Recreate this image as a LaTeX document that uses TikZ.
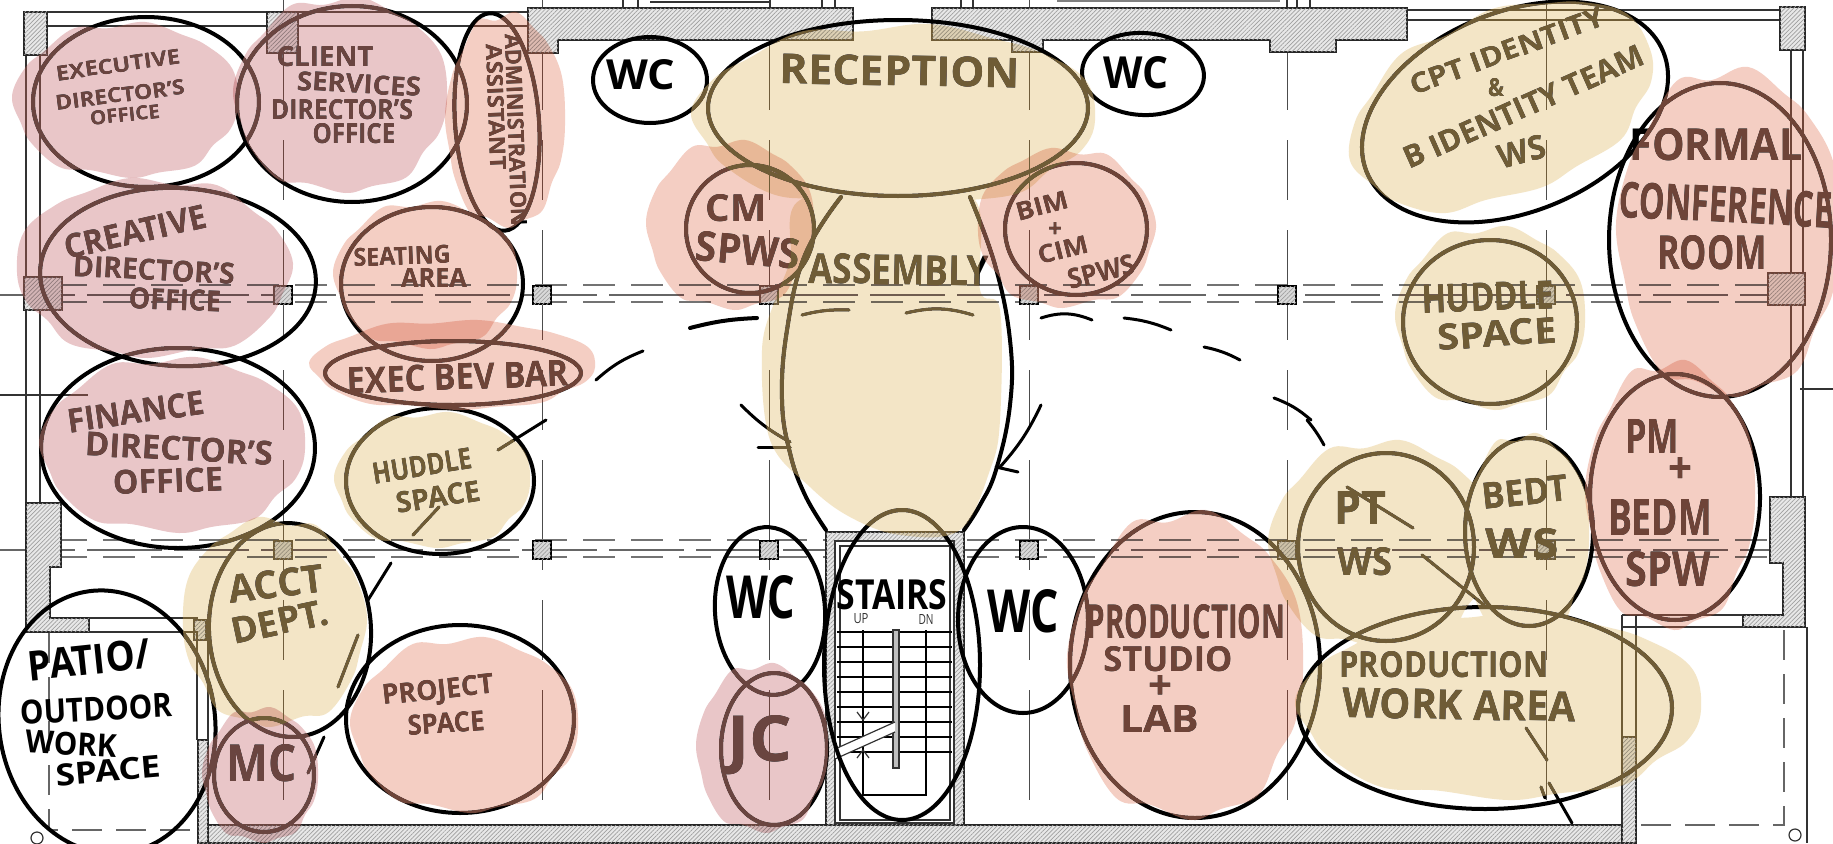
\documentclass[tikz,border=0pt]{standalone}
\usepackage{fontspec}
\usepackage{graphicx}
\usetikzlibrary{shapes.geometric,patterns.meta}
\setmainfont{Open Sans}
\definecolor{rosaW}{HTML}{E9C6C8}\definecolor{rosaD}{HTML}{6A4540}
\definecolor{peachW}{HTML}{F4CEC3}\definecolor{peachD}{HTML}{6E4438}
\definecolor{tanW}{HTML}{F3E5C6}\definecolor{tanD}{HTML}{6F5C36}
\tikzset{
  x=1pt,y=-1pt,
  bubble/.style={ellipse,draw=black,line width=4pt,inner sep=0pt},
  bubble line/.style={draw=black,line width=4pt,line cap=round},
  txt/.style={inner sep=0pt,outer sep=0pt,text=black},
  wall/.style={draw=black!85,line width=1.4pt,fill=gray!18,postaction={pattern={Lines[angle=45,distance=3pt,line width=.7pt]},pattern color=gray!75}},
  grid v/.style={draw=black!70,line width=1pt,dash pattern=on 110pt off 30pt on 60pt off 30pt},
  band/.style={draw=black!55,line width=1.2pt,dash pattern=on 32pt off 16pt},
  band mid/.style={draw=black!60,line width=1.2pt,dash pattern=on 75pt off 12pt},
  colm/.style={draw=black,line width=1.6pt,fill=gray!30,postaction={pattern={Lines[angle=45,distance=3pt,line width=.7pt]},pattern color=gray!75}},
  plan/.style={draw=black!80,line width=1.2pt},
  tread/.style={draw=black,line width=2.2pt},
  patioline/.style={draw=black!60,line width=1.2pt,dash pattern=on 30pt off 14pt},
  stroke/.style={draw=black,line width=3pt,line cap=round},
}
% washed patch around (cx,cy) with half sizes rx, ry
\newcommand\blob[4]{plot[smooth cycle,tension=.65] coordinates {(#1+1.00*#3,#2+.05*#4) (#1+.93*#3,#2+.38*#4) (#1+.78*#3,#2+.58*#4) (#1+.62*#3,#2+.84*#4) (#1+.30*#3,#2+.93*#4) (#1+.05*#3,#2+1.0*#4) (#1-.30*#3,#2+.90*#4) (#1-.58*#3,#2+.86*#4) (#1-.83*#3,#2+.55*#4) (#1-.92*#3,#2+.30*#4) (#1-1.0*#3,#2-.05*#4) (#1-.88*#3,#2-.42*#4) (#1-.72*#3,#2-.62*#4) (#1-.45*#3,#2-.92*#4) (#1-.15*#3,#2-.92*#4) (#1+.18*#3,#2-1.0*#4) (#1+.5*#3,#2-.84*#4) (#1+.72*#3,#2-.70*#4) (#1+.95*#3,#2-.40*#4)}}
\newcommand\wash[3][]{\fill[#1,blend mode=multiply,fill=#2W] #3;\fill[#1,blend mode=lighten,fill=#2D] #3;}
\newcommand\bub[6]{\node[bubble,minimum width=#4*2pt,minimum height=#5*2pt,rotate=#6] (#1) at (#2,#3) {};}
\newcommand\tl[7]{\node[txt,rotate=#6] (#1) at (#2,#3) {\resizebox{#4pt}{#5pt}{\bfseries #7}};}
\begin{document}
\begin{tikzpicture}
\useasboundingbox (0,0) rectangle (1833,843);
\clip (0,0) rectangle (1833,843);
\fill[white] (0,0) rectangle (1833,843);
% grid
\foreach \gx in {283,542,769,1029,1287,1546} \draw[grid v] (\gx,0) -- (\gx,843);
\foreach \by in {295,550}{
 \draw[band] (55,\by-10) -- (1790,\by-10);
 \draw[band] (55,\by+7) -- (1790,\by+7);
 \draw[band mid] (0,\by) -- (1790,\by);
}
\draw[plan] (0,395) -- (88,395);
\draw[plan] (1800,389) -- (1833,389);
% outer lines
\draw[plan,line width=2.5pt] (26,12) -- (26,503);
\draw[plan] (40,25) -- (40,503);
\draw[plan,line width=2.5pt] (24,12) -- (530,12);
\draw[plan] (47,26) -- (268,26) (298,26) -- (530,26);
\draw[plan,line width=2.5pt] (1407,10) -- (1805,10);
\draw[plan] (1407,20) -- (1780,20);
\draw[plan,line width=2.5pt] (1803,50) -- (1803,497);
\draw[plan] (1791,50) -- (1791,497);
% top stubs
\draw[plan] (623,0) -- (623,8) (638,0) -- (638,8) (650,2) -- (770,2) (770,0) -- (770,8) (822,0) -- (822,8) (835,0) -- (835,8) (961,0) -- (961,8) (973,0) -- (973,8) (1287,0) -- (1287,8) (1297,0) -- (1297,8) (1310,0) -- (1310,8);
\draw[gray,line width=3pt] (1057,1) -- (1280,1);
% walls
\draw[wall] (24,12) rectangle (47,55);
\draw[wall] (267,12) -- (298,12) -- (298,30) -- (298,53) -- (267,53) -- cycle;
\draw[wall] (528,8) -- (853,8) -- (853,40) -- (558,40) -- (558,53) -- (528,53) -- cycle;
\draw[wall] (932,8) -- (1407,8) -- (1407,40) -- (1336,40) -- (1336,52) -- (1270,52) -- (1270,40) -- (1043,40) -- (1043,52) -- (1012,52) -- (1012,40) -- (932,40) -- cycle;
\draw[wall] (1780,7) -- (1805,7) -- (1805,50) -- (1780,50) -- cycle;
\draw[wall] (24,277) rectangle (62,310);
\draw[wall] (1768,273) rectangle (1805,305);
\draw[wall] (26,503) -- (61,503) -- (61,567) -- (50,567) -- (50,618) -- (89,618) -- (89,632) -- (26,632) -- cycle;
\draw[wall] (1770,497) -- (1805,497) -- (1805,627) -- (1743,627) -- (1743,615) -- (1783,615) -- (1783,563) -- (1770,563) -- cycle;
\draw[wall] (200,825) -- (1636,825) -- (1636,843) -- (200,843) -- cycle;
\draw[wall] (198,740) -- (208,740) -- (208,843) -- (198,843) -- cycle;
\draw[wall] (194,620) rectangle (206,640);
\draw[wall] (1622,737) rectangle (1636,843);
\draw[plan] (1622,615) -- (1622,825) (1636,615) -- (1636,737);
\draw[plan] (1622,615) -- (1743,615) (1622,627) -- (1743,627);
\draw[plan] (89,618) -- (198,618) (89,632) -- (198,632);
\draw[plan] (197,632) -- (197,740) (208,632) -- (208,740);
\draw[plan] (1807,627) -- (1807,843);
\draw[patioline] (49,633) -- (49,830) -- (197,830);
\draw[patioline] (1784,630) -- (1784,825) -- (1636,825);
\draw[plan] (1795,835) circle (6);
\draw[plan] (37,838) circle (6);
% columns
\foreach \gx in {283,542,769,1029,1287,1546}{
 \draw[colm] (\gx-9,286) rectangle (\gx+9,304);
 \draw[colm] (\gx-9,541) rectangle (\gx+9,559);
}
% stairs
\draw[wall] (826,532) rectangle (964,825);
\fill[white] (835,541) rectangle (954,823);
\draw[plan,line width=1.6pt] (835,541) rectangle (954,823);
\draw[plan] (840,546) rectangle (950,820);
\foreach \treadY in {632,647,662,677,692,707,722,737,752}{
 \draw[tread] (837,\treadY) -- (952,\treadY);
}
\draw[tread] (863,630) -- (863,795) -- (926,795) -- (926,630);
\draw[plan,fill=gray!50] (893,630) rectangle (899,768);
\fill[white] (835,749) -- (895,722) -- (895,732) -- (835,759) -- cycle;
\draw[plan] (835,749) -- (895,722) (835,759) -- (895,732);
\draw[plan] (857,712) -- (863,720) -- (869,712) (857,758) -- (863,750) -- (869,758);
\node[txt,text=black!80] (up) at (861,619) {\resizebox{15pt}{10pt}{UP}};
\node[txt,text=black!80] (dn) at (926,619) {\resizebox{15pt}{10pt}{DN}};
% bubbles
\bub{exec}{146}{102}{113}{85}{0}
\bub{client}{352}{104}{115}{98}{0}
\bub{admin}{497}{122}{42}{109}{4}
\bub{creative}{178}{277}{138}{89}{-3}
\bub{seating}{432}{284}{91}{77}{0}
\bub{bev}{453}{373}{128}{32}{0}
\bub{finance}{178}{448}{137}{100}{0}
\bub{huddleL}{440}{481}{94}{73}{0}
\bub{acct}{290}{630}{81}{107}{3}
\bub{patio}{107}{722}{108}{132}{8}
\bub{mc}{264}{775}{50}{57}{0}
\bub{project}{460}{719}{114}{94}{0}
\bub{wcA}{770}{611}{55}{84}{4}
\bub{jc}{774}{749}{53}{76}{0}
\bub{stairs}{902}{665}{78}{155}{0}
\bub{wcB}{1023}{620}{65}{93}{0}
\bub{studio}{1195}{665}{125}{153}{0}
\bub{reception}{898}{108}{190}{88}{0}
\bub{wcC}{650}{80}{57}{43}{0}
\bub{wcD}{1143}{74}{61}{41}{-3}
\bub{cm}{750}{229}{64}{64}{0}
\bub{bim}{1076}{229}{71}{66}{0}
\draw[bubble line] plot[smooth,tension=.7] coordinates {(841,197) (805,255) (787,330) (782,400) (790,453) (805,495) (826,530)};
\draw[bubble line] plot[smooth,tension=.7] coordinates {(970,197) (995,265) (1010,340) (1010,405) (996,470) (980,505) (964,530)};
\bub{cpt}{1515}{112}{160}{100}{22}
\bub{huddleR}{1490}{322}{87}{82}{0}
\bub{formal}{1720}{240}{111}{157}{0}
\bub{pm}{1675}{497}{85}{123}{0}
\bub{pt}{1386}{547}{88}{94}{0}
\bub{bedt}{1529}{532}{64}{94}{0}
\bub{work}{1485}{708}{187}{101}{0}
% sketch strokes
\draw[stroke] (596,380) to[bend left=10] (643,351);
\draw[stroke,line width=4pt] (690,328) to[bend left=6] (757,318);
\draw[stroke] (802,315) to[bend left=8] (849,310);
\draw[stroke] (906,313) to[bend left=15] (973,315);
\draw[stroke] (1041,318) to[bend left=20] (1092,320);
\draw[stroke] (1124,318) to[bend left=8] (1171,330);
\draw[stroke] (1204,347) to[bend left=8] (1240,360);
\draw[stroke] (1274,398) to[bend left=10] (1311,420);
\draw[stroke] (1307,420) to[bend left=5] (1324,445);
\draw[stroke] (741,405) to[bend right=8] (790,442);
\draw[stroke] (758,447) -- (790,447);
\draw[stroke] (1041,405) to[bend left=8] (1000,467);
\draw[stroke] (996,467) -- (1018,472);
\draw[stroke] (391,563) -- (368,600);
\draw[stroke] (358,635) -- (338,687);
\draw[stroke] (546,420) -- (498,450);
\draw[stroke] (439,507) -- (413,535);
\draw[stroke] (324,737) -- (308,773);
\draw[stroke] (1347,487) -- (1413,528);
\draw[stroke] (1422,555) -- (1484,605);
\draw[stroke] (1526,728) -- (1547,760);
\draw[stroke] (1549,783) -- (1572,823);
\draw[stroke] (1541,787) -- (1545,798);
% texts
\tl{t01}{118}{65}{125}{15}{8}{EXECUTIVE}
\tl{t02}{120}{95}{130}{15}{7}{DIRECTOR'S}
\tl{t03}{125}{115}{70}{14}{6}{OFFICE}
\tl{t04}{325}{57}{97}{20}{0}{CLIENT}
\tl{t05}{359}{84}{124}{19}{-3}{SERVICES}
\tl{t06}{342}{110}{142}{20}{0}{DIRECTOR'S}
\tl{t07}{354}{134}{83}{20}{0}{OFFICE}
\tl{t08}{516}{130}{192}{16}{-88}{ADMINISTRATION}
\tl{t09}{496}{107}{125}{16}{-88}{ASSISTANT}
\tl{t10}{135}{232}{145}{24}{13}{CREATIVE}
\tl{t11}{154}{270}{162}{21}{-3}{DIRECTOR'S}
\tl{t12}{175}{300}{92}{21}{-2}{OFFICE}
\tl{t13}{402}{256}{97}{18}{2}{SEATING}
\tl{t14}{434}{278}{66}{19}{0}{AREA}
\tl{t15}{458}{377}{222}{26}{2}{EXEC BEV BAR}
\tl{t16}{136}{412}{138}{24}{8}{FINANCE}
\tl{t17}{179}{449}{188}{24}{-3}{DIRECTOR'S}
\tl{t18}{168}{481}{110}{24}{2}{OFFICE}
\tl{t19}{422}{466}{100}{21}{9}{HUDDLE}
\tl{t20}{438}{497}{85}{21}{9}{SPACE}
\tl{t21}{276}{584}{95}{28}{7}{ACCT}
\tl{t22}{280}{622}{99}{26}{12}{DEPT.}
\tl{t23}{89}{660}{122}{30}{6}{PATIO/}
\tl{t24}{96}{709}{152}{24}{3}{OUTDOOR}
\tl{t25}{71}{744}{91}{23}{-3}{WORK}
\tl{t26}{108}{771}{105}{22}{5}{SPACE}
\tl{t27}{262}{763}{70}{37}{0}{MC}
\tl{t28}{438}{692}{112}{20}{6}{PROJECT}
\tl{t29}{446}{723}{77}{20}{4}{SPACE}
\tl{t30}{641}{75}{69}{30}{0}{WC}
\tl{t31}{1136}{73}{65}{32}{0}{WC}
\tl{t32}{900}{71}{240}{30}{-1}{RECEPTION}
\tl{t33}{736}{208}{61}{27}{0}{CM}
\tl{t34}{748}{250}{104}{30}{-5}{SPWS}
\tl{t35}{899}{270}{180}{30}{-1}{ASSEMBLY}
\tl{t36}{1042}{206}{53}{18}{15}{BIM}
\tl{t37}{1055}{230}{14}{15}{0}{+}
\tl{t38}{1063}{250}{51}{18}{14}{CIM}
\tl{t39}{1101}{272}{68}{20}{14}{SPWS}
\tl{t40}{1507}{51}{205}{20}{20}{CPT IDENTITY}
\tl{t41}{1496}{88}{16}{18}{0}{\&}
\tl{t42}{1524}{107}{260}{22}{24}{B IDENTITY TEAM}
\tl{t43}{1522}{152}{48}{24}{15}{WS}
\tl{t44}{1488}{297}{133}{28}{2}{HUDDLE}
\tl{t45}{1497}{334}{119}{26}{4}{SPACE}
\tl{t46}{1716}{145}{173}{32}{0}{FORMAL}
\tl{t47}{1726}{205}{213}{36}{-3}{CONFERENCE}
\tl{t48}{1712}{253}{110}{34}{0}{ROOM}
\tl{t49}{1652}{436}{54}{34}{0}{PM}
\tl{t50}{1680}{470}{24}{26}{0}{+}
\tl{t51}{1660}{517}{104}{36}{0}{BEDM}
\tl{t52}{1668}{569}{85}{35}{0}{SPW}
\tl{t53}{1360}{508}{52}{33}{0}{PT}
\tl{t54}{1365}{562}{55}{28}{0}{WS}
\tl{t55}{1525}{492}{86}{26}{6}{BEDT}
\tl{t56}{1522}{544}{73}{30}{0}{WS}
\tl{t57}{1444}{665}{209}{26}{0}{PRODUCTION}
\tl{t58}{1459}{705}{233}{30}{-1}{WORK AREA}
\tl{t59}{1186}{622}{199}{34}{0}{PRODUCTION}
\tl{t60}{1168}{659}{129}{25}{0}{STUDIO}
\tl{t61}{1160}{687}{24}{24}{0}{+}
\tl{t62}{1160}{719}{79}{27}{0}{LAB}
\tl{t63}{761}{597}{69}{43}{0}{WC}
\tl{t64}{892}{595}{111}{30}{0}{STAIRS}
\tl{t65}{1023}{611}{71}{43}{0}{WC}
\tl{t66}{760}{745}{65}{46}{0}{JC}
% washes over lines and lettering
\wash{rosa}{\blob{125}{100}{113}{78}}
\wash{rosa}{\blob{340}{95}{107}{98}}
\wash{rosa}{\blob{155}{268}{-138}{90}}
\wash{rosa}{\blob{172}{445}{133}{88}}
\wash{rosa}{\blob{260}{775}{58}{68}}
\wash{rosa}{\blob{762}{748}{66}{85}}
\wash{peach}{\blob{505}{120}{60}{108}}
\wash{peach}{\blob{425}{275}{92}{74}}
\wash{peach}{\blob{452}{365}{143}{45}}
\wash{peach}{\blob{464}{725}{114}{88}}
\wash{peach}{\blob{730}{225}{84}{85}}
\wash{peach}{\blob{1067}{228}{-89}{80}}
\wash{peach}{\blob{1728}{232}{112}{165}}
\wash{peach}{\blob{1670}{495}{85}{135}}
\wash{peach}{\blob{1185}{665}{118}{155}}
\wash{tan}{\blob{893}{116}{202}{92} plot[smooth cycle,tension=.6] coordinates {(800,200) (900,195) (975,200) (980,290) (1000,310) (1000,420) (990,470) (960,530) (900,535) (850,517) (810,487) (770,440) (762,350) (775,300) (790,260)}}
\wash{tan}{\blob{432}{480}{98}{68}}
\wash{tan}{\blob{275}{622}{-92}{105}}
\wash[rotate around={22:(1500,105)}]{tan}{\blob{1500}{105}{160}{92}}
\wash{tan}{\blob{1490}{318}{95}{92}}
\wash{tan}{\blob{1380}{545}{112}{105} \blob{1525}{535}{64}{102} \blob{1498}{705}{203}{95}}
\end{tikzpicture}
\end{document}
